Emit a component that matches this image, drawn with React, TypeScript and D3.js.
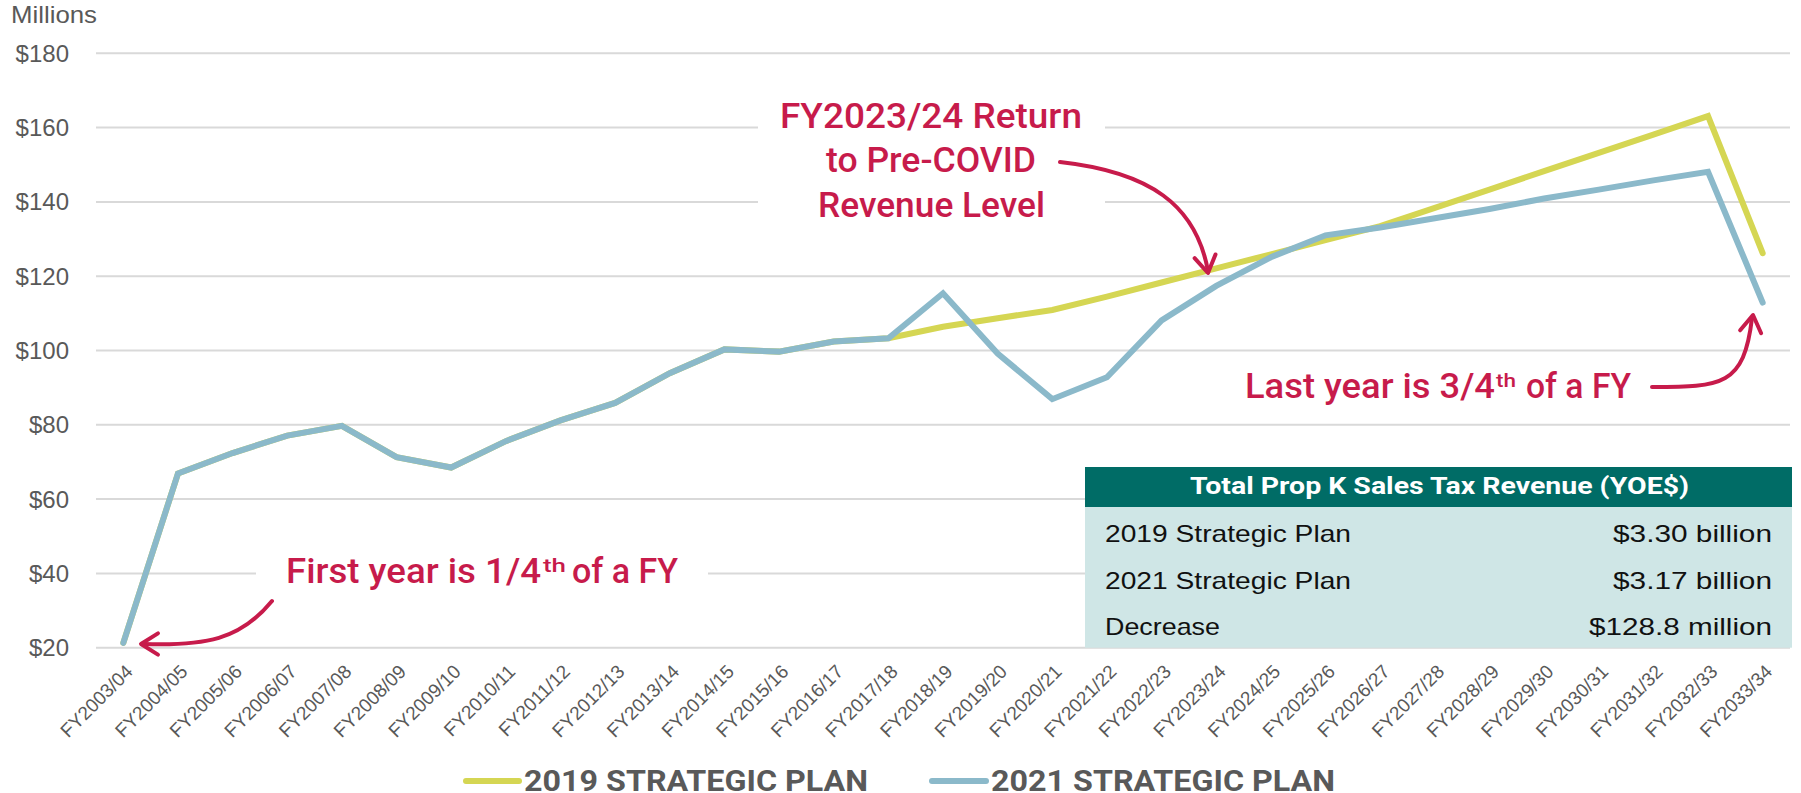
import React, { useEffect } from "react";
import * as d3 from "d3";

const categories = [
  "FY2003/04","FY2004/05","FY2005/06","FY2006/07","FY2007/08","FY2008/09","FY2009/10","FY2010/11",
  "FY2011/12","FY2012/13","FY2013/14","FY2014/15","FY2015/16","FY2016/17","FY2017/18","FY2018/19",
  "FY2019/20","FY2020/21","FY2021/22","FY2022/23","FY2023/24","FY2024/25","FY2025/26","FY2026/27",
  "FY2027/28","FY2028/29","FY2029/30","FY2030/31","FY2031/32","FY2032/33","FY2033/34",
];

const plan2019 = [
  21.3, 66.9, 72.4, 77.1, 79.7, 71.3, 68.5, 75.6, 81.2, 85.9, 93.9, 100.3, 99.7, 102.4, 103.3,
  106.4, 108.7, 110.9, 114.5, 118.3, 122.1, 125.9, 129.7, 133.5, 138.4, 143.3, 148.3, 153.2, 158.1, 163.1, 126.2,
];

const plan2021 = [
  21.3, 66.9, 72.4, 77.1, 79.7, 71.3, 68.5, 75.6, 81.2, 85.9, 93.9, 100.3, 99.7, 102.4, 103.3,
  115.4, 99.2, 86.9, 92.8, 108.1, 117.4, 125.1, 131.0, 133.1, 135.6, 138.1, 140.9, 143.3, 145.8, 148.1, 112.9,
];

const yTicks = [20, 40, 60, 80, 100, 120, 140, 160, 180];

const tableHeader = "Total Prop K Sales Tax Revenue (YOE$)";
const tableRows = [
  ["2019 Strategic Plan", "$3.30 billion"],
  ["2021 Strategic Plan", "$3.17 billion"],
  ["Decrease", "$128.8 million"],
];

const legendLabels = ["2019 STRATEGIC PLAN", "2021 STRATEGIC PLAN"];

const YELLOW = "#D5D653";
const BLUE = "#8BB9CA";
const RED = "#C71B4B";
const GRAY = "#595959";
const GRID = "#D9D9D9";
const TEAL = "#006C66";
const TEAL_LIGHT = "#CFE6E6";

const W = 1801;
const H = 793;

export default function App() {
  useEffect(() => {
    document.body.style.margin = "0";
    document.body.style.overflow = "hidden";
  }, []);

  const x = d3.scalePoint<string>().domain(categories).range([96, 1790]).padding(0.5);
  const y = d3.scaleLinear().domain([20, 180]).range([647.7, 53.3]);

  const line = d3
    .line<number>()
    .x((_, i) => x(categories[i]) as number)
    .y((d) => y(d));

  const annFont = "Roboto, 'Liberation Sans', sans-serif";
  const baseFont = "'Liberation Sans', Arial, sans-serif";

  const chevron = (tx: number, ty: number, angleDeg: number) => {
    const a = (angleDeg * Math.PI) / 180;
    const len = 20;
    const spread = (32 * Math.PI) / 180;
    const p1 = [tx - len * Math.cos(a - spread), ty - len * Math.sin(a - spread)];
    const p2 = [tx - len * Math.cos(a + spread), ty - len * Math.sin(a + spread)];
    return `M${p1[0]},${p1[1]} L${tx},${ty} L${p2[0]},${p2[1]}`;
  };

  const c45 = Math.SQRT1_2;

  return (
    <svg
      width={W}
      height={H}
      viewBox={`0 0 ${W} ${H}`}
      style={{ position: "absolute", left: 0, top: 0, background: "#fff" }}
    >
      {yTicks.map((t) => (
        <line key={t} x1={96} x2={1790} y1={y(t)} y2={y(t)} stroke={GRID} strokeWidth={2} />
      ))}
      {yTicks.map((t) => (
        <text
          key={"l" + t}
          x={69}
          y={y(t) + 8.5}
          textAnchor="end"
          fontFamily={baseFont}
          fontSize={24}
          fill={GRAY}
        >
          {"$" + t}
        </text>
      ))}
      <text x={11} y={23} fontFamily={baseFont} fontSize={24} fill={GRAY} textLength={86} lengthAdjust="spacingAndGlyphs">
        Millions
      </text>

      {categories.map((c) => {
        const tx = (x(c) as number) + 6;
        const ty = 668;
        return (
          <text
            key={c}
            transform={`matrix(${c45},${-c45},${c45},${c45},${tx},${ty})`}
            x={0}
            y={0}
            dy="0.35em"
            textAnchor="end"
            fontFamily={baseFont}
            fontSize={19}
            fill={GRAY}
          >
            {c}
          </text>
        );
      })}

      <rect x={758} y={86} width={347} height={150} fill="#fff" />
      <rect x={256} y={552} width={452} height={42} fill="#fff" />

      <rect x={1085} y={467} width={707} height={40} fill={TEAL} />
      <rect x={1085} y={507} width={707} height={140.7} fill={TEAL_LIGHT} />
      <text
        x={1190}
        y={493.5}
        fontFamily={annFont}
        fontWeight={700}
        fontSize={23}
        fill="#fff"
        textLength={499}
        lengthAdjust="spacingAndGlyphs"
      >
        {tableHeader}
      </text>
      {tableRows.map((r, i) => {
        const by = [542, 588.5, 635][i];
        const lw = [246, 246, 115][i];
        const rw = [159, 159, 183][i];
        return (
          <g key={r[0]}>
            <text x={1105} y={by} fontFamily={baseFont} fontSize={24} fill="#111" textLength={lw} lengthAdjust="spacingAndGlyphs">
              {r[0]}
            </text>
            <text x={1772 - rw} y={by} fontFamily={baseFont} fontSize={24} fill="#111" textLength={rw} lengthAdjust="spacingAndGlyphs">
              {r[1]}
            </text>
          </g>
        );
      })}

      <path d={line(plan2019) as string} fill="none" stroke={YELLOW} strokeWidth={6} strokeLinejoin="miter" strokeLinecap="round" />
      <path d={line(plan2021) as string} fill="none" stroke={BLUE} strokeWidth={6} strokeLinejoin="miter" strokeLinecap="round" />

      <g fontFamily={annFont} fontWeight={500} fontSize={35} fill={RED}>
        <text x={780} y={128} textLength={302} lengthAdjust="spacingAndGlyphs">FY2023/24 Return</text>
        <text x={826} y={172} textLength={210} lengthAdjust="spacingAndGlyphs">to  Pre-COVID</text>
        <text x={818} y={216.5} textLength={227} lengthAdjust="spacingAndGlyphs">Revenue Level</text>
      </g>
      <path d="M1060,162 C1150,172 1196,205 1208,271" fill="none" stroke={RED} strokeWidth={4} strokeLinecap="round" />
      <path d={chevron(1208, 273, 80)} fill="none" stroke={RED} strokeWidth={4} strokeLinecap="round" strokeLinejoin="round" />

      <g fontFamily={annFont} fontWeight={500} fill={RED}>
        <text x={286} y={583} fontSize={35} textLength={255} lengthAdjust="spacingAndGlyphs">First year is 1/4</text>
        <text x={543} y={572} fontSize={18} textLength={23} lengthAdjust="spacingAndGlyphs">th</text>
        <text x={572} y={583} fontSize={35} textLength={106} lengthAdjust="spacingAndGlyphs">of a FY</text>
      </g>
      <path d="M272,601 C240,640 205,646 144,644" fill="none" stroke={RED} strokeWidth={4} strokeLinecap="round" />
      <path d={chevron(141, 644, 180)} fill="none" stroke={RED} strokeWidth={4} strokeLinecap="round" strokeLinejoin="round" />

      <g fontFamily={annFont} fontWeight={500} fill={RED}>
        <text x={1245} y={398} fontSize={35} textLength={250} lengthAdjust="spacingAndGlyphs">Last year is 3/4</text>
        <text x={1496} y={387} fontSize={18} textLength={20} lengthAdjust="spacingAndGlyphs">th</text>
        <text x={1526} y={398} fontSize={35} textLength={105} lengthAdjust="spacingAndGlyphs">of a FY</text>
      </g>
      <path d="M1652,387 C1722,387 1744,386 1752,318" fill="none" stroke={RED} strokeWidth={4} strokeLinecap="round" />
      <path d={chevron(1753, 315, -82)} fill="none" stroke={RED} strokeWidth={4} strokeLinecap="round" strokeLinejoin="round" />

      <line x1={466} x2={519} y1={781} y2={781} stroke={YELLOW} strokeWidth={6} strokeLinecap="round" />
      <text x={524} y={791} fontFamily={annFont} fontWeight={700} fontSize={30} fill={GRAY} textLength={344} lengthAdjust="spacingAndGlyphs">
        {legendLabels[0]}
      </text>
      <line x1={932} x2={986} y1={781} y2={781} stroke={BLUE} strokeWidth={6} strokeLinecap="round" />
      <text x={991} y={791} fontFamily={annFont} fontWeight={700} fontSize={30} fill={GRAY} textLength={344} lengthAdjust="spacingAndGlyphs">
        {legendLabels[1]}
      </text>
    </svg>
  );
}
